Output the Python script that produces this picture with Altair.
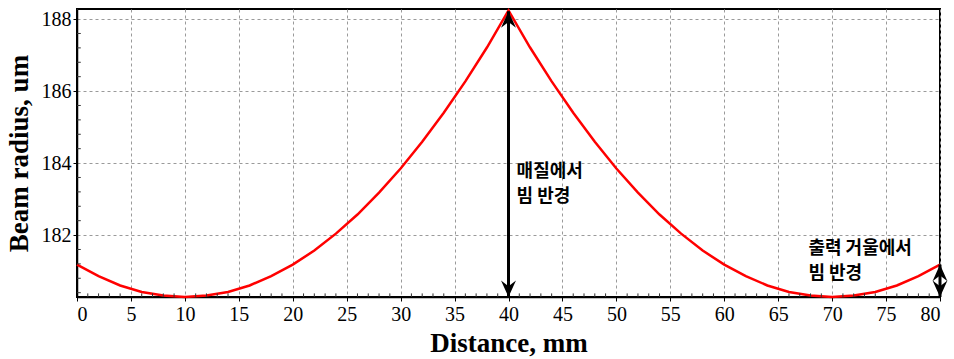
import altair as alt
import pandas as pd

# Beam radius (um), every 2 mm
distance = list(range(0, 82, 2))
radius = [181.18, 180.86, 180.60, 180.42, 180.32, 180.28, 180.32, 180.42, 180.60, 180.86,
          181.18, 181.57, 182.04, 182.57, 183.18, 183.85, 184.59, 185.40, 186.27, 187.21,
          188.24,
          187.21, 186.27, 185.40, 184.59, 183.85, 183.18, 182.57, 182.04, 181.57, 181.18,
          180.86, 180.60, 180.42, 180.32, 180.28, 180.32, 180.42, 180.60, 180.86, 181.18]

x_ticks = list(range(0, 85, 5))
y_ticks = [182, 184, 186, 188]
x_minor = [v for v in range(1, 80) if v % 5 != 0]
y_minor = [round(180.4 + 0.4 * i, 1) for i in range(20) if round(180.4 + 0.4 * i, 1) not in (182.0, 184.0, 186.0, 188.0)]

X_DOM = [0, 80]
Y_DOM = [180.28, 188.28]

# annotations: arrow positions (data units) and texts
arrow_x = [40, 80]
arrow_lo = [180.28, 180.28]
arrow_hi = [188.22, 181.18]
label_x = [40.75, 40.75, 67.8, 67.8]
label_y = [183.76, 183.06, 181.62, 180.92]
label_text = ["매질에서", "빔 반경", "출력 거울에서", "빔 반경"]

SERIF = "'Liberation Serif', 'Times New Roman', Times, serif"

df = pd.DataFrame({"d": distance, "r": radius})
xs = alt.Scale(domain=X_DOM, nice=False, zero=False)
ys = alt.Scale(domain=Y_DOM, nice=False, zero=False)

line = alt.Chart(df).mark_line(color="#ff0000", strokeWidth=2.5).encode(
    x=alt.X("d:Q", scale=xs, title="Distance, mm",
            axis=alt.Axis(values=x_ticks, grid=True, format="d",
                          labelFont=SERIF, titleFont=SERIF)),
    y=alt.Y("r:Q", scale=ys, title="Beam radius, um",
            axis=alt.Axis(values=y_ticks, grid=True, format="d",
                          labelFont=SERIF, titleFont=SERIF)),
)

xminor_df = pd.DataFrame({"x": x_minor, "y0": Y_DOM[0], "y1": Y_DOM[0] + 0.1})
xminor = alt.Chart(xminor_df).mark_rule(color="#333", strokeWidth=1).encode(
    x=alt.X("x:Q", scale=xs), y=alt.Y("y0:Q", scale=ys), y2="y1:Q")
yminor_df = pd.DataFrame({"y": y_minor, "x0": X_DOM[0], "x1": X_DOM[0] + 0.35})
yminor = alt.Chart(yminor_df).mark_rule(color="#333", strokeWidth=1).encode(
    y=alt.Y("y:Q", scale=ys), x=alt.X("x0:Q", scale=xs), x2="x1:Q")

arr_df = pd.DataFrame({"x": arrow_x, "lo": arrow_lo, "hi": arrow_hi})
shaft = alt.Chart(arr_df).mark_rule(color="black", strokeWidth=3).encode(
    x=alt.X("x:Q", scale=xs), y=alt.Y("lo:Q", scale=ys), y2="hi:Q")
head_up = alt.Chart(arr_df).mark_point(
    shape="M0,0 L-0.45,1 L0,0.65 L0.45,1 Z", filled=True, color="black", opacity=1, size=1100
).encode(x=alt.X("x:Q", scale=xs), y=alt.Y("hi:Q", scale=ys))
head_dn = alt.Chart(arr_df).mark_point(
    shape="M0,0 L-0.45,-1 L0,-0.65 L0.45,-1 Z", filled=True, color="black", opacity=1, size=1100
).encode(x=alt.X("x:Q", scale=xs), y=alt.Y("lo:Q", scale=ys))

txt_df = pd.DataFrame({"x": label_x, "y": label_y, "t": label_text})
texts = alt.Chart(txt_df).mark_text(
    align="left", baseline="middle", font="Noto Sans CJK KR", fontSize=18,
    fontWeight="bold", color="black"
).encode(x=alt.X("x:Q", scale=xs), y=alt.Y("y:Q", scale=ys), text="t:N")

chart = alt.layer(line, xminor, yminor, shaft, head_up, head_dn, texts).properties(
    width=863, height=288,
    autosize=alt.AutoSizeParams(type="none"),
    padding={"left": 77, "top": 9, "right": 14, "bottom": 62},
    background="white",
).configure_view(
    stroke="black", strokeWidth=2
).configure_axis(
    domainColor="black", domainWidth=1.5,
    tickColor="black", tickSize=4,
    gridColor="#9a9a9a", gridDash=[3, 3], gridWidth=1,
    labelFontSize=20, labelColor="black",
    titleFontSize=27, titleFontWeight="bold", titleColor="black",
).configure_axisX(
    labelPadding=3, titlePadding=6,
).configure_axisY(
    labelPadding=2, titlePadding=8,
)

chart.save("out.html", embed_options={"renderer": "svg", "actions": False})
